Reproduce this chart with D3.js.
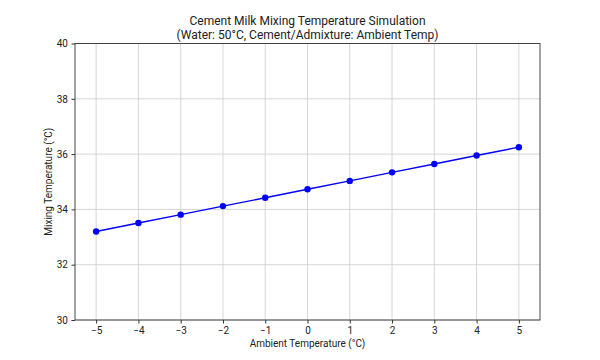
<!DOCTYPE html>
<html><head><meta charset="utf-8">
<script src="https://cdn.jsdelivr.net/npm/d3@7"></script>
<style>body{margin:0;background:#fff}svg{display:block}text{font-family:Roboto,"Open Sans",sans-serif;fill:#222}</style>
</head><body>
<svg id="c" width="600" height="360"></svg>
<script>
const ambient = [-5,-4,-3,-2,-1,0,1,2,3,4,5];
const mixing = [33.20,33.51,33.81,34.12,34.42,34.73,35.03,35.34,35.64,35.95,36.25];
const xTicks = [-5,-4,-3,-2,-1,0,1,2,3,4,5];
const yTicks = [30,32,34,36,38,40];
const title1 = "Cement Milk Mixing Temperature Simulation";
const title2 = "(Water: 50°C, Cement/Admixture: Ambient Temp)";
const xLabel = "Ambient Temperature (°C)";
const yLabel = "Mixing Temperature (°C)";

const L=75,R=540,T=43.5,B=320;
const svg=d3.select("#c");
const x=d3.scaleLinear().domain([-5.5,5.5]).range([L,R]);
const y=d3.scaleLinear().domain([30,40]).range([B,T]);

const g=svg.append("g");
g.selectAll(".gx").data(xTicks).enter().append("line")
 .attr("x1",d=>x(d)).attr("x2",d=>x(d)).attr("y1",T).attr("y2",B)
 .attr("stroke","#cccccc").attr("stroke-width",0.8);
g.selectAll(".gy").data(yTicks).enter().append("line")
 .attr("y1",d=>y(d)).attr("y2",d=>y(d)).attr("x1",L).attr("x2",R)
 .attr("stroke","#cccccc").attr("stroke-width",0.8);

const xa=svg.append("g").attr("transform",`translate(0,${B})`)
 .call(d3.axisBottom(x).tickValues(xTicks).tickSize(3.5).tickPadding(3.5).tickFormat(d=>d<0?"−"+Math.abs(d):d));
const ya=svg.append("g").attr("transform",`translate(${L},0)`)
 .call(d3.axisLeft(y).tickValues(yTicks).tickSize(3.5).tickPadding(3.5));
[xa,ya].forEach(a=>{a.select(".domain").remove();a.selectAll("line").attr("stroke","#333");a.selectAll("text").style("font-size","10px").attr("fill","#222");});

svg.append("rect").attr("x",L).attr("y",T).attr("width",R-L).attr("height",B-T)
 .attr("fill","none").attr("stroke","#333").attr("stroke-width",0.9);

const pts=ambient.map((a,i)=>[a,mixing[i]]);
svg.append("path").datum(pts).attr("fill","none").attr("stroke","#0000ff").attr("stroke-width",1.4)
 .attr("d",d3.line().x(d=>x(d[0])).y(d=>y(d[1])));
svg.selectAll(".pt").data(pts).enter().append("circle")
 .attr("cx",d=>x(d[0])).attr("cy",d=>y(d[1])).attr("r",3.2).attr("fill","#0000ff");

svg.append("text").attr("x",(L+R)/2).attr("y",25).attr("text-anchor","middle").style("font-size","12px").text(title1);
svg.append("text").attr("x",(L+R)/2).attr("y",39).attr("text-anchor","middle").style("font-size","12px").text(title2);
svg.append("text").attr("x",(L+R)/2).attr("y",347).attr("text-anchor","middle").style("font-size","10px").text(xLabel);
svg.append("text").attr("transform",`translate(52,${(T+B)/2}) rotate(-90)`).attr("text-anchor","middle").style("font-size","10px").text(yLabel);
</script>
</body></html>
